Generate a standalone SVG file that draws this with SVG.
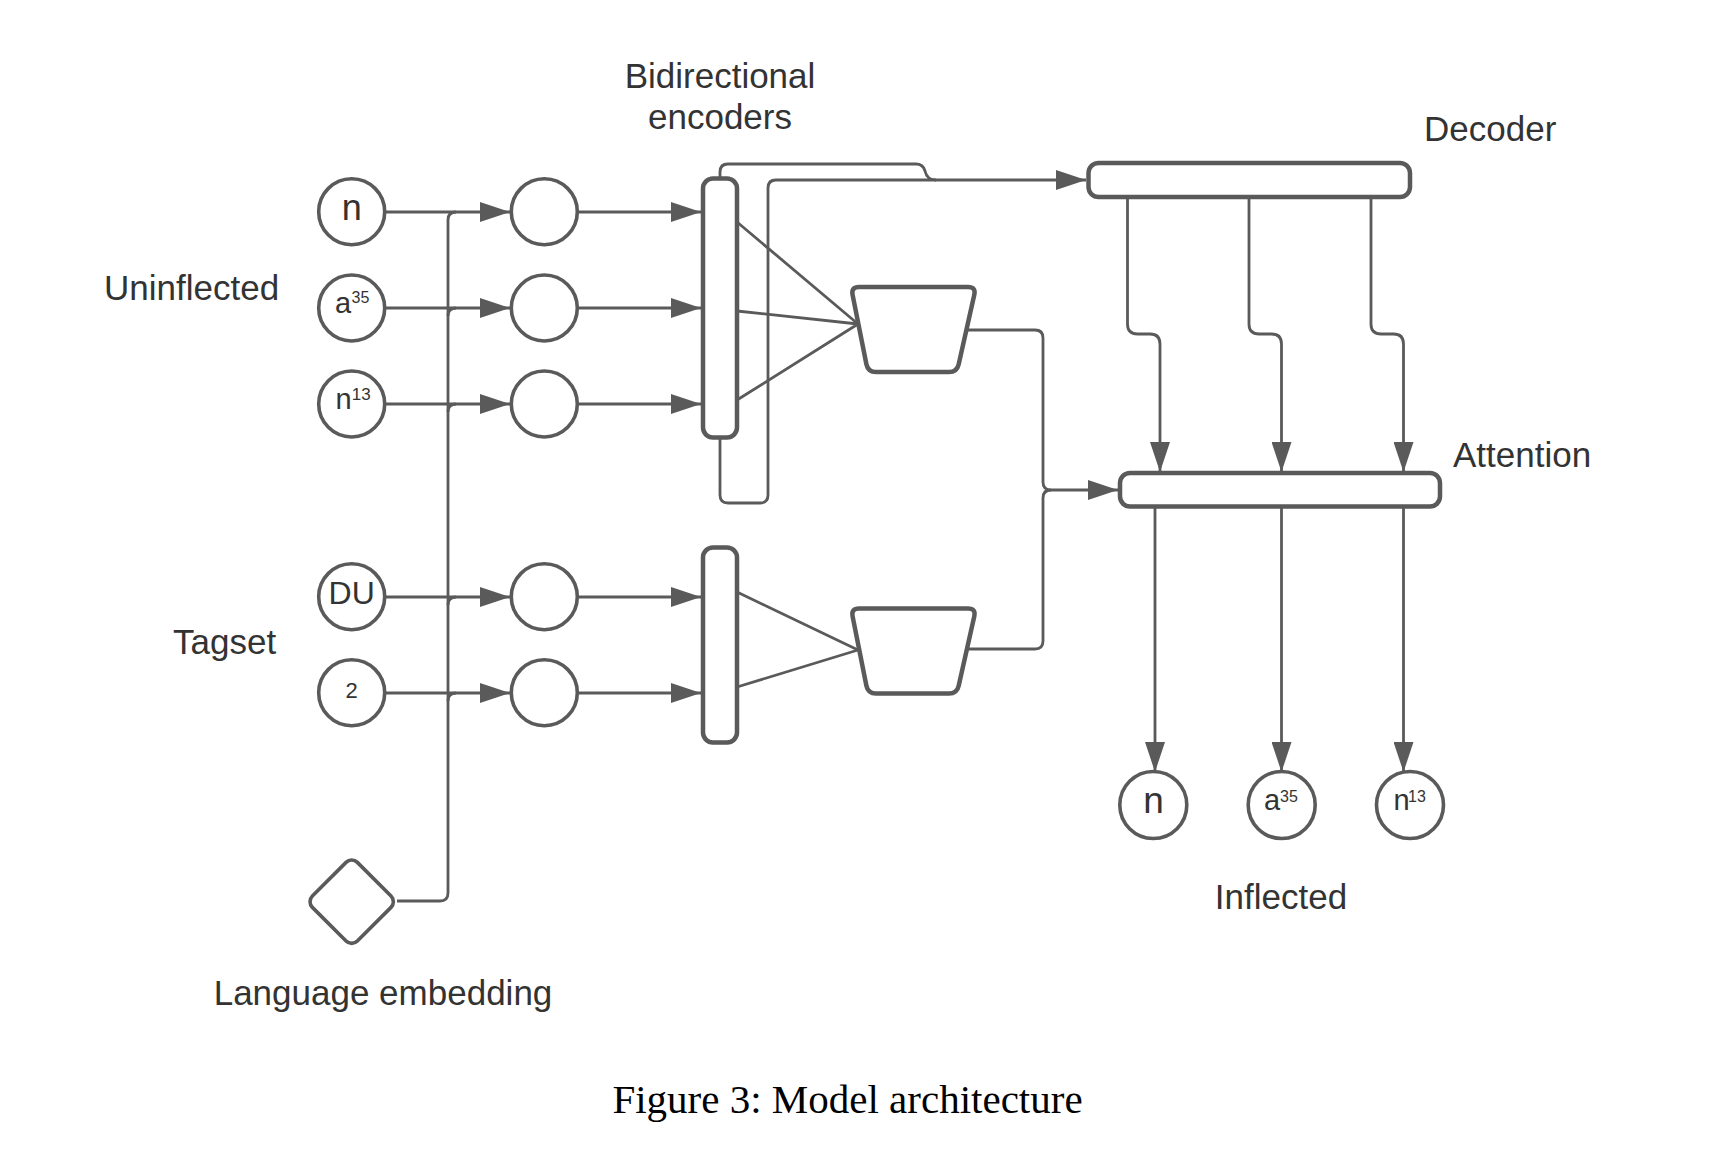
<svg xmlns="http://www.w3.org/2000/svg" width="1710" height="1176" viewBox="0 0 1710 1176">
<defs>
<style>
.lbl{font-family:"Liberation Sans",Arial,sans-serif;font-size:35px;fill:#333333}
.cap{font-family:"Liberation Serif","Times New Roman",serif;font-size:41px;fill:#000000}
.ct{font-family:"Liberation Sans",Arial,sans-serif;fill:#333333}
.node{fill:#ffffff;stroke:#5a5a5a;stroke-width:3.6}
.bar{fill:#ffffff;stroke:#5a5a5a;stroke-width:4.5}
.conn{fill:none;stroke:#5a5a5a;stroke-width:2.8}
.arr{fill:none;stroke:#5a5a5a;stroke-width:2.8;marker-end:url(#ah)}
</style>
<marker id="ah" markerUnits="userSpaceOnUse" markerWidth="30" markerHeight="20" refX="30" refY="10" orient="auto">
<path d="M0,0 L30,10 L0,20 Z" fill="#5a5a5a"/>
</marker>
</defs>
<rect width="1710" height="1176" fill="#ffffff"/>

<g id="connectors">
<!-- language embedding bus -->
<path class="conn" d="M397 901 H440 Q448 901 448 893 V220 Q448 212 456 212"/>
<path class="conn" d="M448 316 Q448 308 456 308"/>
<path class="conn" d="M448 412 Q448 404 456 404"/>
<path class="conn" d="M448 605 Q448 597 456 597"/>
<path class="conn" d="M448 701 Q448 693 456 693"/>
<!-- input to hidden -->
<path class="arr" d="M385 212 H510"/>
<path class="arr" d="M385 308 H510"/>
<path class="arr" d="M385 404 H510"/>
<path class="arr" d="M385 597 H510"/>
<path class="arr" d="M385 693 H510"/>
<!-- hidden to encoder bars -->
<path class="arr" d="M578 212 H701"/>
<path class="arr" d="M578 308 H701"/>
<path class="arr" d="M578 404 H701"/>
<path class="arr" d="M578 597 H701"/>
<path class="arr" d="M578 693 H701"/>
<!-- encoder to trapezoid -->
<path class="conn" d="M737 222 L858 324 M737 311 L858 324 M737 400 L858 324"/>
<path class="conn" d="M737 592 L858 650 M737 687 L858 650"/>
<!-- bypass to decoder -->
<path class="conn" d="M720 177 V172 Q720 164 728 164 H916 Q923 164 925 171 Q927 180 936 180"/>
<path class="arr" d="M720 438 V495 Q720 503 728 503 H760 Q768 503 768 495 V188 Q768 180 776 180 H1086"/>
<!-- trapezoids to attention -->
<path class="arr" d="M966 330 H1035 Q1043 330 1043 338 V482 Q1043 490 1051 490 H1118"/>
<path class="conn" d="M966 649 H1035 Q1043 649 1043 641 V498 Q1043 490 1051 490"/>
<!-- decoder to attention -->
<path class="arr" d="M1127.5 197 V324 Q1127.5 334 1137.5 334 H1150 Q1160 334 1160 344 V472"/>
<path class="arr" d="M1249 197 V324 Q1249 334 1259 334 H1271.5 Q1281.5 334 1281.5 344 V472"/>
<path class="arr" d="M1371 197 V324 Q1371 334 1381 334 H1393.5 Q1403.5 334 1403.5 344 V472"/>
<!-- attention to outputs -->
<path class="arr" d="M1155 507 V772"/>
<path class="arr" d="M1281.5 507 V772"/>
<path class="arr" d="M1403.5 507 V772"/>
</g>

<g id="in-n"><circle class="node" cx="351.7" cy="211.7" r="33"/><text class="ct" x="351.7" y="220" font-size="36" text-anchor="middle">n</text></g>
<g id="in-a35"><circle class="node" cx="351.7" cy="308" r="33"/><text class="ct" x="335" y="313" font-size="29">a</text><text class="ct" x="351.5" y="303" font-size="16">35</text></g>
<g id="in-n13"><circle class="node" cx="351.7" cy="404" r="33"/><text class="ct" x="335.5" y="408.5" font-size="29">n</text><text class="ct" x="351.7" y="400" font-size="17">13</text></g>
<g id="in-DU"><circle class="node" cx="351.7" cy="596.7" r="33"/><text class="ct" x="351.7" y="604" font-size="32" text-anchor="middle">DU</text></g>
<g id="in-2"><circle class="node" cx="351.7" cy="692.7" r="33"/><text class="ct" x="351.7" y="698" font-size="22" text-anchor="middle">2</text></g>

<g id="h1"><circle class="node" cx="544.3" cy="211.7" r="33"/></g>
<g id="h2"><circle class="node" cx="544.3" cy="308" r="33"/></g>
<g id="h3"><circle class="node" cx="544.3" cy="404" r="33"/></g>
<g id="h4"><circle class="node" cx="544.3" cy="596.7" r="33"/></g>
<g id="h5"><circle class="node" cx="544.3" cy="692.7" r="33"/></g>

<g id="lang-emb"><rect class="node" x="-31.8" y="-31.8" width="63.6" height="63.6" rx="8" transform="translate(351.7 901.7) rotate(45)"/></g>

<g id="enc-upper"><rect class="bar" x="703" y="178.5" width="34" height="259" rx="10"/></g>
<g id="enc-lower"><rect class="bar" x="703" y="547.5" width="34" height="195" rx="10"/></g>

<g id="trap-upper"><path class="bar" d="M859 287 H968 Q976 287 974.3 294.8 L958.7 364.2 Q957 372 949 372 H876 Q868 372 866.4 364.2 L852.6 294.9 Q851 287 859 287 Z"/></g>
<g id="trap-lower"><path class="bar" d="M859 608.5 H968 Q976 608.5 974.3 616.3 L958.7 685.7 Q957 693.5 949 693.5 H876 Q868 693.5 866.4 685.7 L852.6 616.4 Q851 608.5 859 608.5 Z"/></g>

<g id="decoder"><rect class="bar" x="1088.5" y="163" width="321.5" height="34" rx="10"/></g>
<g id="attention"><rect class="bar" x="1120" y="473" width="320" height="33.5" rx="10"/></g>

<g id="out-n"><circle class="node" cx="1153.3" cy="805" r="33.5"/><text class="ct" x="1153.5" y="812.5" font-size="37" text-anchor="middle">n</text></g>
<g id="out-a35"><circle class="node" cx="1281.7" cy="805" r="33.5"/><text class="ct" x="1264" y="810" font-size="29">a</text><text class="ct" x="1280" y="801.5" font-size="16">35</text></g>
<g id="out-n13"><circle class="node" cx="1410" cy="805" r="33.5"/><text class="ct" x="1393.5" y="810" font-size="29">n</text><text class="ct" x="1408" y="801.5" font-size="16">13</text></g>

<g id="labels">
<text class="lbl" x="720" y="88" text-anchor="middle">Bidirectional</text>
<text class="lbl" x="720" y="129" text-anchor="middle">encoders</text>
<text class="lbl" x="1424" y="141">Decoder</text>
<text class="lbl" x="104" y="300">Uninflected</text>
<text class="lbl" x="1453" y="467">Attention</text>
<text class="lbl" x="173" y="654">Tagset</text>
<text class="lbl" x="1281" y="909" text-anchor="middle">Inflected</text>
<text class="lbl" x="383" y="1005" text-anchor="middle">Language embedding</text>
<text class="cap" x="847.5" y="1113" text-anchor="middle">Figure 3: Model architecture</text>
</g>
</svg>
